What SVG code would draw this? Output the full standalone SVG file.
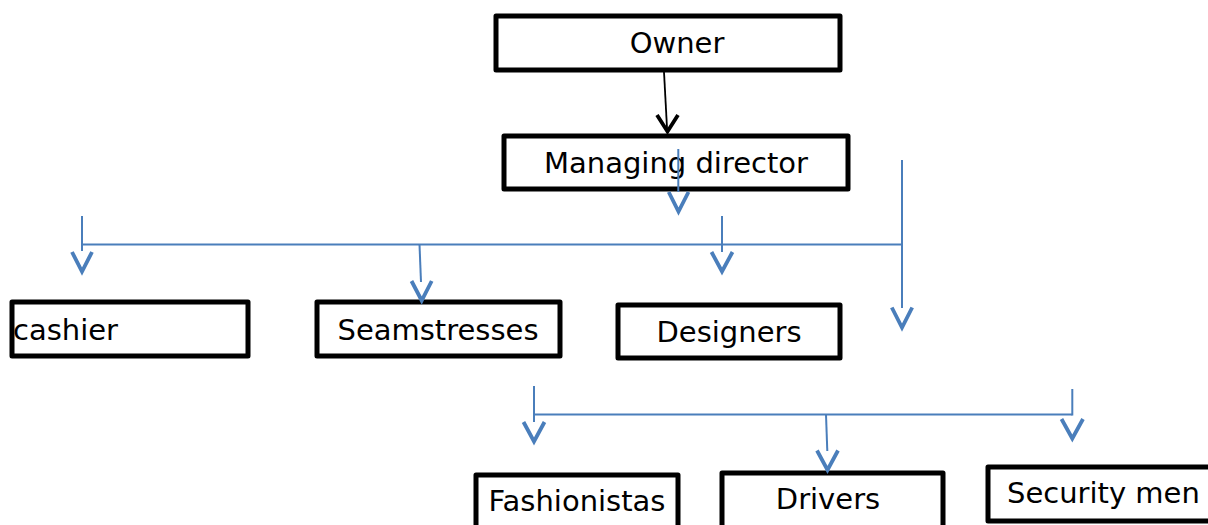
<svg xmlns="http://www.w3.org/2000/svg" width="1208" height="525" viewBox="0 0 1208 525">
<style>
.box{fill:#fff;stroke:#000;stroke-width:5;stroke-linejoin:round}
.lbl{font-family:"DejaVu Sans",sans-serif;font-size:29px;fill:#000}
.mid{text-anchor:middle}
.bl{fill:none;stroke:#4A7EBB;stroke-width:2}
.bh{fill:none;stroke:#4A7EBB;stroke-width:3.8}
.kl{fill:none;stroke:#000;stroke-width:1.8}
.kh{fill:none;stroke:#000;stroke-width:3.8}
</style>
<rect width="1208" height="525" fill="#fff"/>
<g id="owner"><rect class="box" x="496" y="16" width="344" height="54"/><text class="lbl mid" x="677" y="53">Owner</text></g>
<g id="managing-director"><rect class="box" x="504" y="136" width="344" height="53"/><text class="lbl mid" x="676" y="173">Managing director</text></g>
<g id="cashier"><rect class="box" x="12" y="302" width="236" height="54"/><text class="lbl" x="13" y="340">cashier</text></g>
<g id="seamstresses"><rect class="box" x="317" y="302" width="243" height="54"/><text class="lbl mid" x="438" y="340">Seamstresses</text></g>
<g id="designers"><rect class="box" x="618" y="305" width="222" height="53"/><text class="lbl mid" x="729" y="342">Designers</text></g>
<g id="fashionistas"><rect class="box" x="476" y="475" width="202" height="60"/><text class="lbl mid" x="577" y="511">Fashionistas</text></g>
<g id="drivers"><rect class="box" x="722" y="473" width="221" height="62"/><text class="lbl mid" x="828" y="509">Drivers</text></g>
<g id="security-men"><rect class="box" x="988" y="467" width="230" height="54"/><text class="lbl" x="1007" y="503">Security men</text></g>
<g id="connectors">
<line class="kl" x1="664" y1="72" x2="667" y2="128"/>
<polyline class="kh" points="657,115 667.5,131.5 678,115"/>
<line class="bl" x1="678.3" y1="149" x2="678.3" y2="192"/>
<polyline class="bh" points="668.7,192 678.5,211.5 688.5,192"/>
<line class="bl" x1="82" y1="244.5" x2="902" y2="244.5"/>
<line class="bl" x1="82" y1="216" x2="82" y2="251"/>
<polyline class="bh" points="72,252 82,271.5 92,252"/>
<line class="bl" x1="419.5" y1="244.5" x2="421" y2="282"/>
<polyline class="bh" points="411.5,281 421.7,300.5 431.7,281"/>
<line class="bl" x1="722" y1="216" x2="722" y2="252"/>
<polyline class="bh" points="711.5,252 722,271.5 732.5,252"/>
<line class="bl" x1="902" y1="160" x2="902" y2="308"/>
<polyline class="bh" points="891.8,307.5 902,327.5 912.2,307.5"/>
<line class="bl" x1="534" y1="414.5" x2="1072.3" y2="414.5"/>
<line class="bl" x1="534" y1="386" x2="534" y2="422"/>
<polyline class="bh" points="523.5,422 534,441.5 544.5,422"/>
<line class="bl" x1="826" y1="414.5" x2="827.3" y2="451"/>
<polyline class="bh" points="817,450.5 827.5,470 838,450.5"/>
<line class="bl" x1="1072.3" y1="389" x2="1072.3" y2="415.5"/>
<polyline class="bh" points="1061.5,419 1072.3,438.5 1083,419"/>
</g>
</svg>
